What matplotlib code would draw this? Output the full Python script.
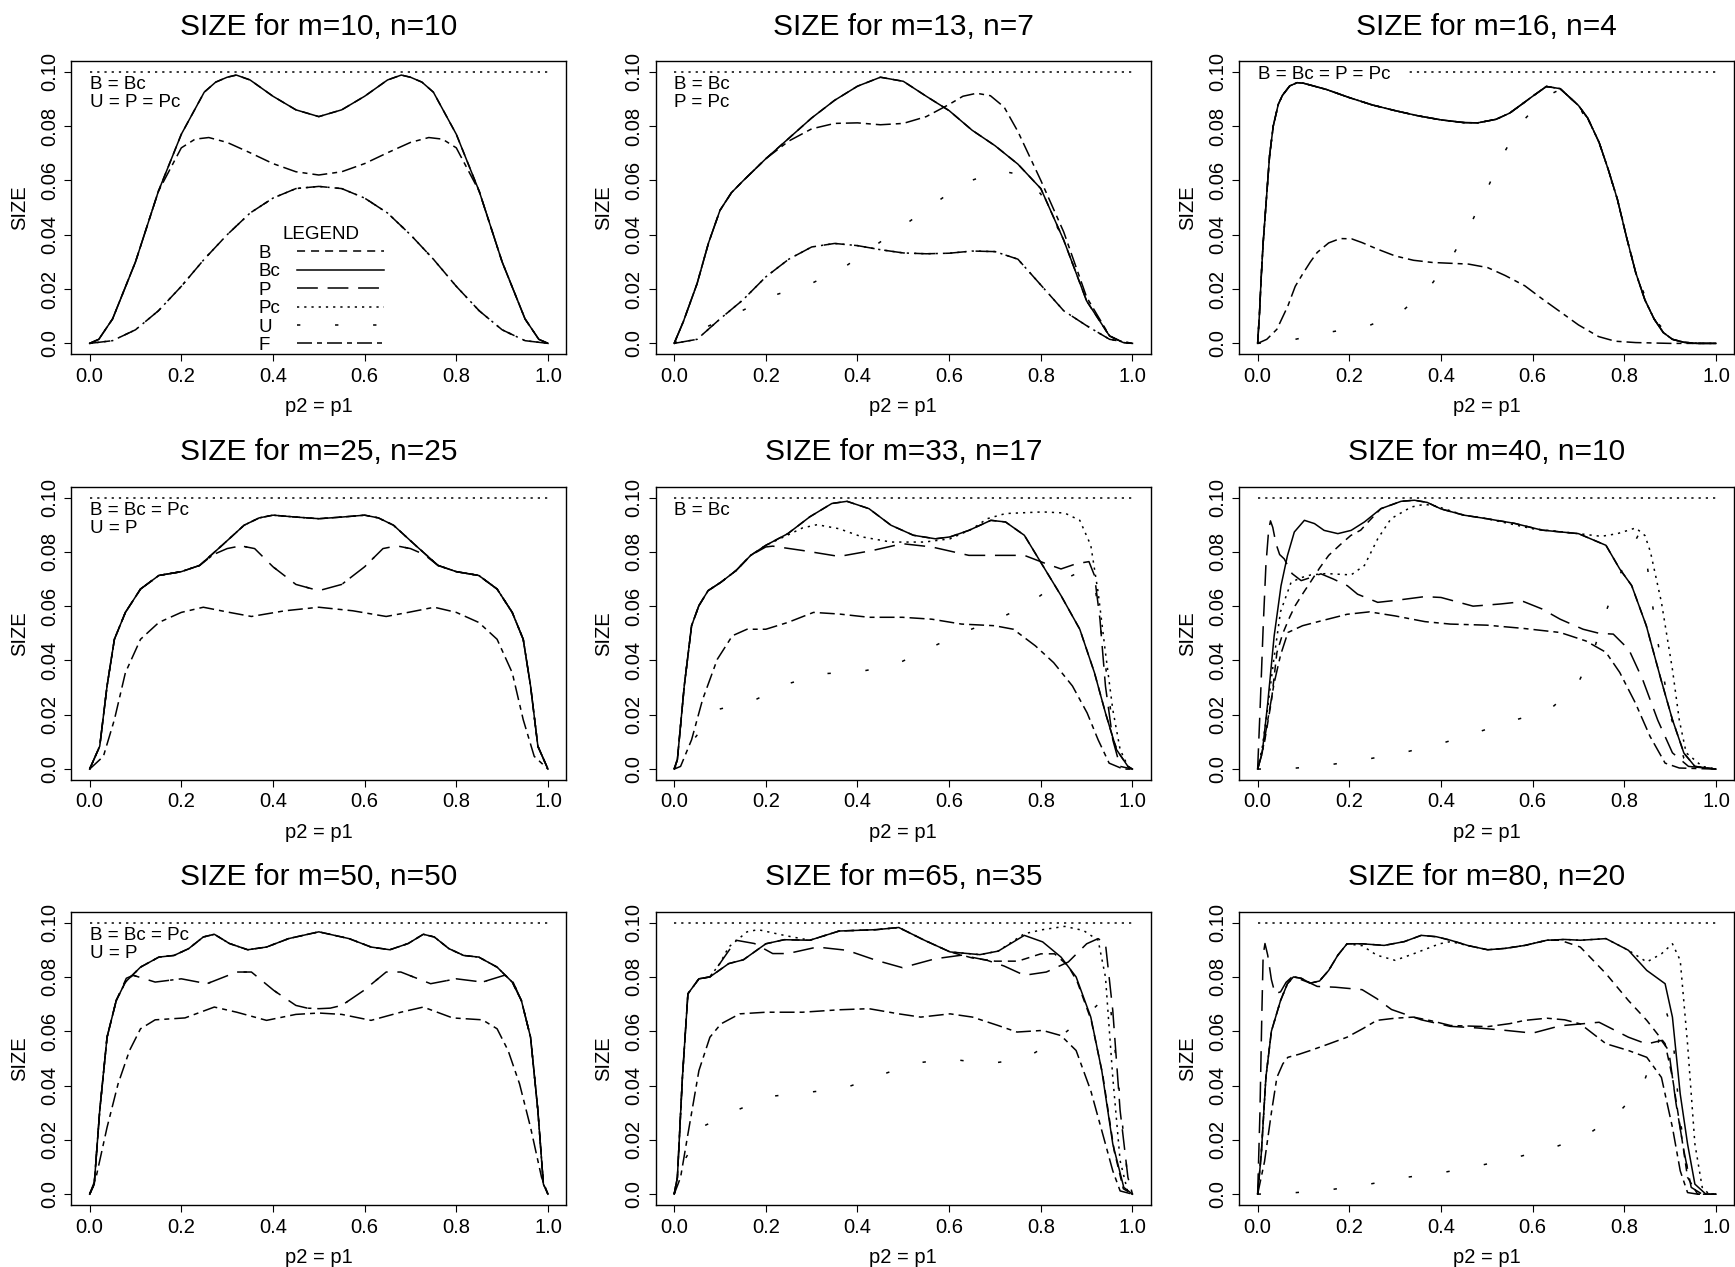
import matplotlib
matplotlib.use('Agg')
import matplotlib.pyplot as plt
from matplotlib.lines import Line2D

plt.rcParams['font.family'] = ['Liberation Sans', 'DejaVu Sans']
plt.rcParams['lines.scale_dashes'] = False

NOMINAL = 0.10
TESTS = ['B', 'Bc', 'P', 'Pc', 'U', 'F']

# ---- m=10, n=10
x_bc1 = [0, .02, .05, .1, .15, .2, .25, .275, .3, .32, .35, .4, .45, .5, .55, .6, .65, .68, .7, .725, .75, .8, .85, .9, .95, .98, 1]
y_bc1 = [0, .0015, .009, .030, .056, .077, .0925, .0962, .098, .0988, .097, .091, .086, .0835, .086, .091, .097, .0988, .098, .0962, .0925, .077, .056, .030, .009, .0015, 0]
x_f1 = [0, .02, .05, .1, .15, .2, .23, .26, .3, .35, .4, .45, .5, .55, .6, .65, .7, .74, .77, .8, .85, .9, .95, .98, 1]
y_f1 = [0, .0015, .009, .030, .056, .072, .0752, .0758, .074, .0702, .0662, .0632, .062, .0632, .0662, .0702, .074, .0758, .0752, .072, .056, .030, .009, .0015, 0]
x_u1 = [0, .05, .1, .15, .2, .25, .3, .35, .4, .45, .5, .55, .6, .65, .7, .75, .8, .85, .9, .95, 1]
y_u1 = [0, .001, .005, .012, .021, .031, .040, .048, .0535, .057, .0578, .057, .0535, .048, .040, .031, .021, .012, .005, .001, 0]

# ---- m=13, n=7
x_bc2 = [0, .02, .05, .075, .1, .125, .15, .2, .25, .3, .35, .4, .45, .5, .55, .6, .65, .7, .75, .8, .85, .9, .95, .98, 1]
y_bc2 = [0, .008, .022, .037, .049, .0555, .0598, .068, .0755, .083, .0895, .0947, .098, .0965, .091, .0857, .0785, .0728, .066, .057, .038, .0156, .0027, .0003, 0]
x_f2 = [0, .02, .05, .075, .1, .125, .15, .2, .25, .3, .35, .4, .45, .5, .55, .6, .63, .66, .69, .72, .75, .8, .85, .9, .95, .98, 1]
y_f2 = [0, .008, .022, .037, .049, .0555, .0598, .068, .0745, .079, .081, .0812, .0805, .081, .0835, .088, .091, .0921, .0912, .087, .078, .060, .041, .017, .0028, .0003, 0]
x_p2 = [0, .05, .1, .15, .2, .25, .3, .35, .4, .45, .5, .55, .6, .65, .7, .75, .8, .85, .9, .95, 1]
y_p2 = [0, .0015, .009, .016, .0245, .031, .0355, .0368, .036, .0345, .0333, .033, .0332, .034, .0338, .031, .0215, .012, .0065, .0015, 0]
x_u2 = [0, .07, .15, .22, .3, .37, .43, .5, .57, .63, .71, .76, .8, .85, .9, .95, 1]
y_u2 = [0, .006, .0122, .0178, .0221, .0279, .035, .0433, .0517, .0589, .0636, .062, .055, .038, .0156, .0027, 0]

# ---- m=16, n=4
x_bc3 = [0, .004, .008, .012, .018, .026, .034, .045, .054, .07, .086, .1, .15, .2, .25, .3, .35, .4, .45, .48, .52, .55, .58, .6, .63, .66, .7, .72, .745, .765, .785, .805, .825, .845, .865, .885, .905, .93, .96, 1]
y_bc3 = [0, .011, .025, .037, .0507, .069, .080, .088, .0913, .0948, .096, .0958, .0935, .0905, .0878, .0857, .0838, .0823, .0813, .0812, .0825, .0848, .0885, .091, .0946, .0938, .0876, .083, .074, .064, .053, .039, .026, .016, .009, .004, .0015, .0004, 0, 0]
x_f3 = [0, .02, .042, .066, .082, .098, .115, .13, .155, .18, .205, .228, .26, .3, .34, .381, .42, .46, .502, .54, .583, .62, .663, .7, .744, .78, .825, .9, 1]
y_f3 = [0, .0015, .0052, .0138, .021, .0255, .030, .0335, .037, .0386, .0385, .0371, .0348, .0322, .0306, .0298, .0295, .0292, .0279, .025, .0212, .0165, .0113, .0068, .0025, .0008, .0003, 0, 0]
x_u3 = [0, .082, .163, .244, .316, .377, .425, .466, .5, .534, .575, .629, .66, .7, .745, .785, .825, .865, .905, .95, 1]
y_u3 = [0, .0015, .0043, .0066, .0119, .0212, .0322, .0443, .0566, .0691, .0812, .0909, .0935, .0876, .074, .053, .026, .009, .0015, 0, 0]

# ---- m=25, n=25
x_bc4 = [0, .022, .038, .054, .078, .111, .151, .2, .24, .289, .337, .37, .4, .45, .5, .55, .6, .63, .663, .711, .76, .8, .849, .889, .922, .946, .962, .978, 1]
y_bc4 = [0, .0084, .0306, .0478, .0577, .0663, .0713, .0727, .075, .0824, .0898, .0925, .0935, .0928, .0922, .0928, .0935, .0925, .0898, .0824, .075, .0727, .0713, .0663, .0577, .0478, .0306, .0084, 0]
x_up4 = [0, .022, .038, .054, .078, .111, .151, .2, .24, .27, .3, .33, .36, .4, .45, .5, .55, .6, .64, .67, .7, .73, .76, .8, .849, .889, .922, .946, .962, .978, 1]
y_up4 = [0, .0084, .0306, .0478, .0577, .0663, .0713, .0727, .075, .079, .0812, .0822, .0812, .0745, .068, .0657, .068, .0745, .0812, .0822, .0812, .079, .075, .0727, .0713, .0663, .0577, .0478, .0306, .0084, 0]
x_f4 = [0, .03, .054, .078, .111, .151, .2, .248, .305, .353, .426, .5, .574, .647, .695, .752, .8, .849, .889, .922, .946, .97, 1]
y_f4 = [0, .0047, .0182, .0355, .0478, .054, .0577, .0596, .0577, .0562, .0583, .0596, .0583, .0562, .0577, .0596, .0577, .054, .0478, .0355, .0182, .0047, 0]

# ---- m=33, n=17
x_bc5 = [0, .007, .022, .038, .054, .074, .102, .135, .167, .2, .248, .296, .344, .377, .425, .473, .522, .57, .602, .643, .691, .723, .764, .804, .844, .885, .917, .941, .965, .99, 1]
y_bc5 = [0, .0035, .0306, .0528, .0602, .0657, .0688, .0731, .0787, .0824, .0867, .0929, .0978, .0986, .0959, .0898, .0861, .0848, .0855, .0879, .0916, .091, .0861, .075, .0639, .0515, .0355, .0207, .0072, .001, 0]
x_pc5 = [0, .007, .022, .038, .054, .074, .102, .135, .167, .2, .248, .28, .312, .36, .41, .473, .546, .602, .651, .683, .723, .804, .852, .885, .909, .925, .941, .957, .973, .99, 1]
y_pc5 = [0, .0035, .0306, .0528, .0602, .0657, .0688, .0731, .0787, .0824, .0862, .0888, .090, .0885, .0855, .0836, .0836, .0848, .0885, .0922, .0941, .0947, .0943, .0916, .0824, .0651, .0429, .0219, .0072, .001, 0]
x_p5 = [0, .007, .022, .038, .054, .074, .102, .135, .167, .2, .215, .28, .36, .433, .498, .562, .643, .707, .764, .812, .844, .877, .905, .917, .929, .941, .957, .973, 1]
y_p5 = [0, .0035, .0306, .0528, .0602, .0657, .0688, .0731, .0787, .0818, .0821, .0805, .0783, .0805, .083, .0818, .0787, .0787, .0787, .0756, .0737, .0756, .0764, .0713, .0552, .0306, .0108, .001, 0]
x_f5 = [0, .014, .038, .062, .094, .127, .159, .2, .248, .304, .36, .425, .498, .562, .627, .699, .74, .788, .828, .869, .901, .925, .949, .98, 1]
y_f5 = [0, .001, .0108, .0256, .0404, .0491, .0515, .0515, .054, .0577, .0571, .0559, .0559, .0552, .0534, .0528, .0515, .0454, .0392, .0306, .0207, .0108, .0022, 0, 0]
x_u5 = [0, .042, .094, .171, .244, .322, .402, .481, .556, .629, .703, .776, .84, .89, .92, .94, .96, .98, 1]
y_u5 = [0, .0108, .0219, .025, .0312, .0351, .0358, .0383, .0444, .0503, .0549, .061, .069, .073, .065, .04, .01, .001, 0]

# ---- m=40, n=10
x_bc6 = [0, .01, .022, .036, .051, .065, .08, .102, .124, .145, .175, .204, .233, .269, .313, .342, .37, .4, .45, .5, .56, .62, .7, .76, .79, .816, .848, .88, .905, .93, .954, 1]
y_bc6 = [0, .006, .0243, .049, .0675, .0786, .0873, .0916, .0904, .0879, .0867, .0879, .091, .0959, .0986, .099, .0982, .0958, .0935, .0922, .0905, .088, .0867, .0824, .0737, .0676, .0528, .033, .0182, .0059, .001, 0]
x_b6 = [0, .015, .03, .042, .055, .07, .082, .1, .115, .135, .155, .18, .203, .225, .244, .269, .313, .342, .37, .4, .45, .5, .56, .62, .7, .76, .79, .816, .848, .88, .905, .93, .954, 1]
y_b6 = [0, .01, .025, .0429, .05, .056, .0602, .065, .0688, .074, .0787, .0826, .086, .088, .0915, .0959, .0986, .099, .0982, .0958, .0935, .0922, .0905, .088, .0867, .0824, .0737, .0676, .0528, .033, .0182, .0059, .001, 0]
x_pc6 = [0, .01, .02, .035, .05, .073, .095, .116, .15, .204, .233, .262, .291, .335, .364, .39, .45, .5, .6, .7, .75, .785, .825, .845, .857, .881, .905, .92, .935, .97, 1]
y_pc6 = [0, .008, .02, .04, .058, .0688, .0705, .0715, .072, .0715, .075, .0848, .0922, .0965, .0975, .0968, .0935, .0922, .0885, .0867, .0857, .0867, .0888, .086, .080, .0614, .0367, .018, .006, .001, 0]
x_p6 = [0, .006, .012, .018, .024, .028, .033, .04, .048, .058, .075, .095, .115, .138, .165, .196, .218, .262, .305, .364, .40, .47, .53, .58, .62, .66, .71, .745, .776, .81, .84, .873, .905, .94, 1]
y_p6 = [0, .025, .052, .075, .088, .0914, .089, .083, .079, .0774, .072, .0694, .0705, .0719, .070, .0675, .0644, .0614, .0622, .0635, .0632, .060, .0608, .0617, .059, .0552, .0515, .050, .0497, .044, .033, .018, .006, .001, 0]
x_f6 = [0, .01, .02, .036, .05, .066, .098, .139, .195, .244, .3, .365, .42, .5, .58, .66, .716, .76, .79, .824, .856, .889, .92, 1]
y_f6 = [0, .006, .016, .0317, .042, .0503, .0528, .0546, .057, .0579, .0564, .0543, .0534, .053, .0518, .0503, .0472, .043, .0356, .0244, .0121, .0022, .0004, 0]
x_u6 = [0, .085, .165, .244, .324, .404, .482, .558, .635, .696, .732, .756, .785, .817, .83, .85, .87, .9, .93, .96, 1]
y_u6 = [0, .0004, .0018, .0038, .0063, .0096, .0137, .0179, .0216, .0306, .0429, .0561, .0694, .0818, .086, .075, .05, .02, .004, 0, 0]

# ---- m=50, n=50
x_bc7 = [0, .01, .022, .038, .058, .078, .111, .151, .184, .216, .248, .272, .305, .345, .386, .434, .5, .566, .614, .655, .695, .728, .752, .784, .816, .849, .889, .922, .942, .962, .978, .99, 1]
y_bc7 = [0, .0037, .0308, .0578, .0713, .0781, .0836, .0873, .0879, .0904, .0947, .0957, .0923, .09, .091, .0941, .0966, .0941, .091, .09, .0923, .0957, .0947, .0904, .0879, .0873, .0836, .0781, .0713, .0578, .0308, .0037, 0]
x_up7 = [0, .01, .022, .038, .058, .08, .095, .143, .2, .256, .321, .353, .402, .45, .475, .5, .525, .55, .598, .647, .679, .744, .8, .857, .905, .92, .942, .962, .978, .99, 1]
y_up7 = [0, .0037, .0308, .0578, .0713, .0795, .0806, .0781, .0793, .0775, .0818, .0818, .075, .0695, .0685, .0683, .0685, .0695, .075, .0818, .0818, .0775, .0793, .0781, .0806, .0795, .0713, .0578, .0308, .0037, 0]
x_f7 = [0, .014, .038, .062, .087, .111, .143, .208, .272, .321, .386, .45, .5, .55, .614, .679, .728, .792, .857, .889, .913, .938, .962, .986, 1]
y_f7 = [0, .0062, .0246, .0406, .0529, .0609, .0642, .0649, .0689, .067, .064, .0662, .0667, .0662, .064, .067, .0689, .0649, .0642, .0609, .0529, .0406, .0246, .0062, 0]

# ---- m=65, n=35
x_bc8 = [0, .007, .018, .03, .054, .078, .119, .151, .2, .24, .296, .36, .441, .49, .546, .602, .667, .707, .764, .804, .844, .877, .909, .933, .957, .981, 1]
y_bc8 = [0, .0061, .043, .0738, .0793, .080, .0849, .0863, .0922, .0937, .0935, .0969, .0974, .0982, .0935, .0892, .0882, .0895, .0953, .0929, .0873, .080, .0652, .0455, .0185, .0025, 0]
x_pc8 = [0, .007, .018, .03, .054, .078, .1, .119, .159, .183, .24, .296, .36, .441, .49, .546, .602, .667, .707, .764, .804, .852, .893, .925, .941, .957, .973, .99, 1]
y_pc8 = [0, .0061, .043, .0738, .0793, .080, .085, .091, .0966, .0974, .0953, .0935, .0969, .0974, .0982, .0935, .0892, .0882, .0895, .0959, .0974, .0986, .0971, .0935, .080, .043, .0123, .0006, 0]
x_p8 = [0, .007, .018, .03, .054, .078, .1, .135, .175, .215, .248, .312, .377, .441, .498, .57, .627, .683, .72, .764, .812, .86, .9, .925, .941, .957, .973, .99, 1]
y_p8 = [0, .0061, .043, .0738, .0793, .080, .085, .0935, .0923, .0886, .0886, .091, .0898, .0861, .0834, .0867, .088, .0861, .084, .0806, .0818, .0855, .0922, .0941, .0923, .0676, .0308, .0062, 0]
x_b8 = [0, .007, .018, .03, .054, .078, .119, .151, .2, .24, .296, .36, .441, .49, .546, .602, .65, .7, .75, .8, .83, .86, .88, .91, .935, .96, .98, 1]
y_b8 = [0, .0061, .043, .0738, .0793, .080, .0849, .0863, .0922, .0937, .0935, .0969, .0974, .0982, .0935, .0892, .087, .0858, .0858, .0885, .0885, .084, .078, .064, .044, .016, .002, 0]
x_f8 = [0, .014, .03, .054, .078, .102, .143, .2, .28, .36, .425, .49, .538, .602, .651, .707, .748, .804, .844, .877, .909, .933, .957, .973, 1]
y_f8 = [0, .0062, .0221, .0455, .0578, .0627, .0664, .067, .067, .0679, .0683, .0664, .0652, .0664, .0652, .0621, .0597, .0603, .0584, .0529, .0381, .0234, .0086, .0012, 0]
x_u8 = [0, .026, .066, .135, .21, .292, .371, .448, .524, .602, .683, .764, .832, .897, .949, .97, .99, 1]
y_u8 = [0, .0135, .0252, .0308, .036, .0375, .039, .0437, .0482, .0498, .048, .0498, .0566, .0654, .0738, .04, .005, 0]

# ---- m=80, n=20
x_bc9 = [0, .008, .018, .03, .05, .065, .078, .095, .115, .135, .155, .175, .195, .228, .276, .32, .357, .39, .421, .46, .502, .54, .583, .631, .67, .704, .76, .809, .849, .889, .905, .922, .938, .954, .978, 1]
y_bc9 = [0, .015, .043, .060, .0713, .0775, .080, .0795, .0777, .0785, .0824, .088, .0922, .0922, .0916, .093, .0953, .0948, .0935, .0915, .090, .0905, .0916, .0935, .0938, .0935, .0941, .0898, .0824, .0775, .0652, .0369, .0185, .0037, 0, 0]
x_pc9 = [0, .008, .018, .03, .05, .065, .078, .095, .115, .135, .155, .175, .195, .228, .26, .3, .34, .397, .421, .46, .502, .54, .583, .631, .67, .704, .76, .809, .849, .881, .905, .922, .938, .954, .97, .985, 1]
y_pc9 = [0, .015, .043, .060, .0713, .0775, .080, .0795, .0777, .0785, .0824, .088, .0922, .0915, .088, .0861, .0885, .0922, .093, .0915, .090, .0905, .0916, .0935, .0938, .0935, .0941, .0898, .0855, .0885, .0922, .0861, .0553, .0185, .0025, 0, 0]
x_b9 = [0, .008, .018, .03, .05, .065, .078, .095, .115, .135, .155, .175, .195, .228, .276, .32, .357, .39, .421, .46, .502, .54, .583, .631, .66, .704, .76, .809, .849, .889, .905, .922, .938, .96, 1]
y_b9 = [0, .015, .043, .060, .0713, .0775, .080, .0795, .0777, .0785, .0824, .088, .0922, .0922, .0916, .093, .0953, .0948, .0935, .0915, .090, .0905, .0916, .0935, .0935, .091, .0812, .0713, .064, .0554, .043, .0246, .0062, 0, 0]
x_p9 = [0, .005, .009, .012, .016, .022, .03, .038, .05, .062, .075, .095, .115, .13, .17, .228, .26, .292, .357, .42, .48, .542, .6, .66, .745, .809, .849, .881, .897, .913, .93, .946, .97, 1]
y_p9 = [0, .03, .065, .088, .0923, .088, .079, .0738, .0745, .078, .080, .079, .0777, .0765, .0762, .0753, .072, .068, .0642, .0618, .0612, .0603, .0593, .062, .0633, .0578, .0553, .0566, .0529, .0332, .016, .0025, 0, 0]
x_f9 = [0, .015, .03, .042, .055, .066, .09, .115, .15, .195, .23, .26, .3, .34, .38, .421, .502, .55, .583, .631, .67, .704, .76, .809, .849, .881, .905, .922, .938, .96, 1]
y_f9 = [0, .012, .03, .043, .048, .0504, .0515, .0529, .055, .0578, .061, .064, .0648, .0652, .0638, .0621, .0617, .0628, .064, .0648, .0642, .0627, .0554, .0529, .0504, .043, .0246, .0086, .0006, 0, 0]
x_u9 = [0, .085, .165, .244, .324, .405, .484, .563, .643, .716, .785, .839, .873, .89, .905, .92, .94, .96, 1]
y_u9 = [0, .0006, .0018, .0037, .0062, .008, .0105, .0135, .017, .0215, .0295, .0396, .055, .068, .06, .03, .006, 0, 0]

# line type of each test (dash lengths in points)
STYLE = {
    'B': (0, (5.8, 4.3)),
    'Bc': '-',
    'P': (0, (15, 7)),
    'Pc': (0, (1.6, 3.6)),
    'U': (0, (2.4, 25)),
    'F': (0, (10.8, 3.6, 3.6, 3.6)),
}

panels = [
    ((10, 10), {'B': (x_bc1, y_bc1), 'Bc': (x_bc1, y_bc1), 'P': (x_u1, y_u1), 'Pc': (x_u1, y_u1),
                'U': (x_u1, y_u1), 'F': (x_f1, y_f1)}, 'B = Bc\nU = P = Pc'),
    ((13, 7), {'B': (x_bc2, y_bc2), 'Bc': (x_bc2, y_bc2), 'P': (x_p2, y_p2), 'Pc': (x_p2, y_p2),
               'U': (x_u2, y_u2), 'F': (x_f2, y_f2)}, 'B = Bc\nP = Pc'),
    ((16, 4), {'B': (x_bc3, y_bc3), 'Bc': (x_bc3, y_bc3), 'P': (x_bc3, y_bc3), 'Pc': (x_bc3, y_bc3),
               'U': (x_u3, y_u3), 'F': (x_f3, y_f3)}, 'B = Bc = P = Pc'),
    ((25, 25), {'B': (x_bc4, y_bc4), 'Bc': (x_bc4, y_bc4), 'P': (x_up4, y_up4), 'Pc': (x_bc4, y_bc4),
                'U': (x_up4, y_up4), 'F': (x_f4, y_f4)}, 'B = Bc = Pc\nU = P'),
    ((33, 17), {'B': (x_bc5, y_bc5), 'Bc': (x_bc5, y_bc5), 'P': (x_p5, y_p5), 'Pc': (x_pc5, y_pc5),
                'U': (x_u5, y_u5), 'F': (x_f5, y_f5)}, 'B = Bc'),
    ((40, 10), {'B': (x_b6, y_b6), 'Bc': (x_bc6, y_bc6), 'P': (x_p6, y_p6), 'Pc': (x_pc6, y_pc6),
                'U': (x_u6, y_u6), 'F': (x_f6, y_f6)}, None),
    ((50, 50), {'B': (x_bc7, y_bc7), 'Bc': (x_bc7, y_bc7), 'P': (x_up7, y_up7), 'Pc': (x_bc7, y_bc7),
                'U': (x_up7, y_up7), 'F': (x_f7, y_f7)}, 'B = Bc = Pc\nU = P'),
    ((65, 35), {'B': (x_b8, y_b8), 'Bc': (x_bc8, y_bc8), 'P': (x_p8, y_p8), 'Pc': (x_pc8, y_pc8),
                'U': (x_u8, y_u8), 'F': (x_f8, y_f8)}, None),
    ((80, 20), {'B': (x_b9, y_b9), 'Bc': (x_bc9, y_bc9), 'P': (x_p9, y_p9), 'Pc': (x_pc9, y_pc9),
                'U': (x_u9, y_u9), 'F': (x_f9, y_f9)}, None),
]

fig = plt.figure(figsize=(17.35, 12.67), dpi=100)
lefts = [0.0411, 0.3780, 0.7143]
bottoms = [0.7204, 0.3844, 0.0489]
W, H = 0.2853, 0.2315
LW = 1.1
leg = None

for i, ((m, n), curves, note) in enumerate(panels):
    ax = fig.add_axes([lefts[i % 3], bottoms[i // 3], W, H])
    ax.hlines(NOMINAL, 0, 1, colors='k', linestyles=[STYLE['Pc']], lw=LW, zorder=1)
    for k in ['U', 'F', 'P', 'Pc', 'B', 'Bc']:
        xs, ys = curves[k]
        ax.plot(xs, ys, color='k', lw=LW, linestyle=STYLE[k], zorder=2)

    ax.set_xlim(-0.04, 1.04)
    ax.set_ylim(-0.004, 0.104)
    ax.set_xticks([0, .2, .4, .6, .8, 1.0])
    ax.set_xticklabels(['0.0', '0.2', '0.4', '0.6', '0.8', '1.0'])
    ax.set_yticks([0, .02, .04, .06, .08, .10])
    ax.set_yticklabels(['0.0', '0.02', '0.04', '0.06', '0.08', '0.10'], rotation=90, va='center')
    ax.tick_params(direction='out', length=5, width=0.8, labelsize=14.5, pad=4)
    for s in ax.spines.values():
        s.set_linewidth(1.0)
    ax.set_title(f'SIZE for m={m}, n={n}', fontsize=21.5, pad=19)
    ax.set_xlabel('p2 = p1', fontsize=14.5, labelpad=8)
    ax.set_ylabel('SIZE', fontsize=14.5, labelpad=8)

    if note is not None:
        if i == 2:
            ax.text(0.0, 0.0991, note, ha='left', va='center', fontsize=13.5, zorder=1.5,
                    bbox=dict(boxstyle='square,pad=0.95', fc='white', ec='none'))
        else:
            ax.text(0.0, 0.0984, note, ha='left', va='top', fontsize=13.5, linespacing=1.08, zorder=1.5)

    if i == 0:
        handles = [Line2D([], [], color='k', lw=LW, linestyle=STYLE[k]) for k in TESTS]
        leg = ax.legend(handles, TESTS, title='LEGEND', loc='center', bbox_to_anchor=(0.505, 0.0196),
                        bbox_transform=ax.transData, frameon=False, markerfirst=False,
                        handlelength=4.6, handletextpad=0.9, labelspacing=0.07, fontsize=13.5,
                        title_fontsize=13.5, borderpad=0)

# left-align the legend labels (they are packed right-aligned next to the line samples)
fig.canvas.draw()
widths = [t.get_window_extent().width for t in leg.get_texts()]
for t, w in zip(leg.get_texts(), widths):
    t.set_x(-(max(widths) - w))

fig.savefig('out.png', dpi=100)
